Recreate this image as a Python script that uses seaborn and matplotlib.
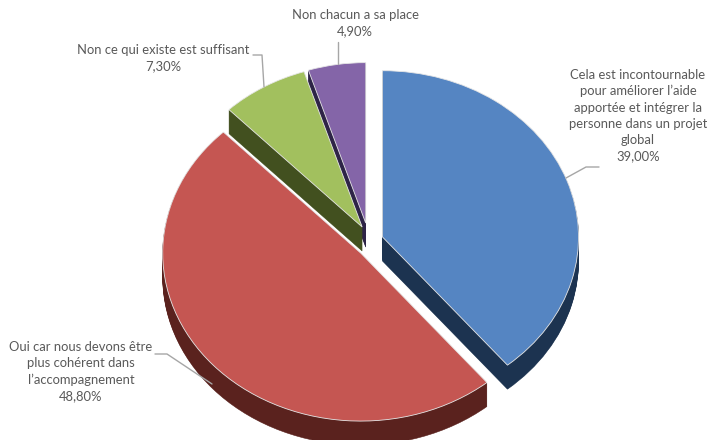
import matplotlib
matplotlib.use("Agg")
import matplotlib.pyplot as plt
import seaborn as sns

sns.set_theme(style="white")
plt.rcParams["font.family"] = ["Lato", "DejaVu Sans"]

values = [39.0, 48.8, 7.3, 4.9]
labels = [
    "Cela est incontournable\npour améliorer l’aide\napportée et intégrer la\npersonne dans un projet\nglobal\n39,00%",
    "Oui car nous devons être\nplus cohérent dans\nl’accompagnement\n48,80%",
    "Non ce qui existe est suffisant\n7,30%",
    "Non chacun a sa place\n4,90%",
]
top_colors = sns.color_palette(["#5585c2", "#c55652", "#a2c05e", "#8465a8"])
wall_colors = sns.color_palette(["#1c3350", "#5a221e", "#42501f", "#2e2447"])

explode = [0.035, 0.09, 0.097, 0.108]
scale = [0.99, 1.0, 0.97, 0.955]
nudge_x = [0, -2, -4, -7]   # px, small shifts for the perspective of the original
nudge_y = [2, -2, 0, 0]
draw_order = [1, 3, 2, 0]   # purple at the back, red in front

# pixel sizes of the ellipse
W, H = 707, 440
rx, ry = 198, 168
cx, cy = 376, 241
depth = 24

fig = plt.figure(figsize=(W / 100, H / 100), dpi=100)
ax = fig.add_axes([0, 0, 1, 1])

for d in range(depth, -1, -1):
    colors = top_colors if d == 0 else wall_colors
    wedges, _ = ax.pie(values, explode=explode, colors=colors, startangle=90,
                       counterclock=False, center=(0, -d / ry))
    for i, w in enumerate(wedges):
        w.set_radius(scale[i])
        w.set_center((w.center[0] + nudge_x[i] / rx, w.center[1] + nudge_y[i] / ry))
        w.set_zorder(draw_order[i] * 2 + (1 if d == 0 else 0))
        if d == 0:
            w.set_edgecolor("#e6e6e6")
            w.set_linewidth(0.6)
        else:
            w.set_edgecolor(wall_colors[i])
            w.set_linewidth(0.4)

ax.set_aspect("auto")
ax.set_xlim(-cx / rx, (W - cx) / rx)
ax.set_ylim(-(H - cy) / ry, cy / ry)

# text and leader lines, placed in pixels of the picture
text_pos = [(638, 115.5), (81, 371.5), (163, 58.5), (355, 23.5)]
for t, (x, y) in zip(labels, text_pos):
    fig.text(x / W, 1 - y / H, t, ha="center", va="center", fontsize=9.4,
             color="#595959", linespacing=1.42)

leaders = [
    ([599, 586, 566], [167, 167, 178]),
    ([155, 167, 212], [354, 354, 384]),
    ([253, 262, 264], [55, 55, 87]),
    ([338, 338], [42, 64]),
]
for xs, ys in leaders:
    ax.plot([x / W for x in xs], [1 - y / H for y in ys], color="#a6a6a6", lw=1,
            transform=fig.transFigure, zorder=20)

fig.savefig("out.png", dpi=100, facecolor="white")
